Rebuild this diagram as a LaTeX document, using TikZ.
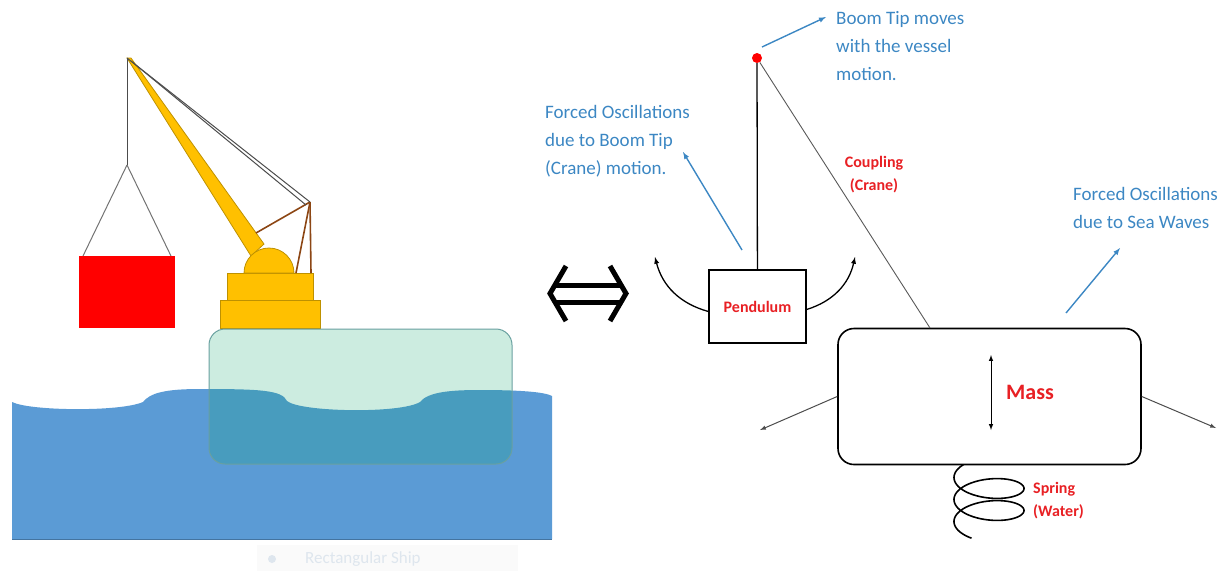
\documentclass[tikz,border=0pt]{standalone}
\usepackage{fontspec}
\setmainfont{Carlito}
\usepackage{xcolor}

\definecolor{seablue}{RGB}{91,155,213}
\definecolor{hullgreen}{RGB}{0,160,100}
\definecolor{hulledge}{RGB}{105,160,160}
\definecolor{craneyellow}{RGB}{255,192,0}
\definecolor{craneedge}{RGB}{190,145,0}
\definecolor{stay}{RGB}{140,70,20}
\definecolor{noteblue}{RGB}{60,135,195}
\definecolor{labelred}{RGB}{232,32,36}
\definecolor{faint}{RGB}{222,230,238}

\tikzset{
    note/.style={text=noteblue, align=left, anchor=north west, inner sep=0pt,
        font=\fontsize{19}{28}\selectfont},
    tag/.style={text=labelred, inner sep=0pt, font=\bfseries\fontsize{16}{23}\selectfont},
    pointer/.style={-latex, draw=noteblue, line width=1.4pt},
    swing/.style={-latex, line width=1.3pt},
    cranepart/.style={fill=craneyellow, draw=craneedge, line width=0.8pt},
    wire/.style={draw=black!70, line width=1pt},
}

\begin{document}
\begin{tikzpicture}[x=1pt,y=-1pt]
    \useasboundingbox (0,0) rectangle (1220,571);

    % sea
    \fill[seablue] (12,539) -- (12,402) .. controls (30,411) and (120,412) .. (143,402)
        .. controls (150,393) and (165,389) .. (200,389)
        .. controls (260,389) and (282,390) .. (287,401)
        .. controls (300,412) and (400,414) .. (420,402)
        .. controls (428,392) and (450,390) .. (480,390)
        .. controls (520,390) and (545,392) .. (552,396) -- (552,539) -- cycle;
    \draw[seablue!75!black] (12,539) -- (552,539);

    % crane
    \draw[cranepart] (127,58) -- (131,58) -- (264,244) -- (251,256) -- cycle;
    \draw[cranepart] (220,300) rectangle (320,328);
    \draw[cranepart] (227,273) rectangle (313,300);
    \draw[cranepart] (244,273) arc[start angle=180, end angle=0, radius=25pt] -- cycle;

    \draw[stay, line width=1.6pt] (310,202) -- (256,233);
    \draw[stay, line width=1.6pt] (310,202) -- (296,273);
    \draw[stay, line width=1.6pt] (310,202) -- (311,273);

    \draw[wire] (127,58) -- (310,202);
    \draw[wire] (131,61) -- (306,205);
    \draw[wire] (127,58) -- (127,165);
    \draw[wire, draw=black!55] (127,165) -- (83,256);
    \draw[wire, draw=black!55] (127,165) -- (171,256);

    % load
    \fill[red] (79,256) rectangle (175,328);

    % hull
    \draw[fill=hullgreen, fill opacity=0.2, draw=hulledge, line width=1pt, rounded corners=16pt]
        (209,329) rectangle (512,464);

    % legend
    \fill[black!2] (257,545) rectangle (518,571);
    \fill[faint] (272,559) circle[radius=4pt];
    \node[anchor=west, text=faint, font=\fontsize{17}{20}\selectfont, inner sep=0pt]
        (legend) at (305,559) {Rectangular Ship};

    % equivalence sign
    \draw[line width=5pt] (556,285) -- (620,285) (556,302) -- (620,302);
    \draw[line width=5pt, line join=miter] (566,266) -- (550,293.5) -- (566,321);
    \draw[line width=5pt, line join=miter] (610,266) -- (626,293.5) -- (610,321);

    % pendulum
    \node[circle, fill=red, inner sep=0pt, minimum size=10pt] (tip) at (757,58) {};
    \node[draw, line width=1.3pt, minimum width=97pt, minimum height=73pt,
        text=labelred, font=\bfseries\fontsize{16}{20}\selectfont] (pend) at (757.5,306.5) {Pendulum};
    \draw[line width=1.3pt] (tip) -- (pend);

    \coordinate (swingL) at (655,257);
    \coordinate (swingR) at (855,257);
    \draw[swing] ([yshift=-5pt]pend.west) to[bend left=30] (swingL);
    \draw[swing] ([yshift=-3pt]pend.east) to[bend right=30] (swingR);

    % spring under the mass
    \draw[line width=1.6pt] plot[domain=0:870, samples=240, smooth, variable=\t]
        ({989-35*sin(\t)}, {472+\t/360*22-15*cos(\t)});

    % mass
    \node[draw, fill=white, line width=1.6pt, rounded corners=16pt,
        minimum width=303pt, minimum height=136pt] (mass) at (989.5,396.5) {};
    \node[tag, font=\bfseries\fontsize{22}{26}\selectfont] (masslabel) at (1030,392) {Mass};

    \coordinate (hitch) at (930,328);
    \draw[draw=black!65, line width=0.9pt] (tip) -- (hitch);

    \coordinate (heavetop) at (991,355);
    \coordinate (heavebot) at (991,430);
    \draw[latex-latex, line width=1pt] (heavetop) -- (heavebot);

    \coordinate (surgeL) at (760,430);
    \coordinate (surgeR) at (1216,428);
    \draw[-latex, draw=black!70, line width=1pt] (mass.west) -- (surgeL);
    \draw[-latex, draw=black!70, line width=1pt] (mass.east) -- (surgeR);

    % labels
    \node[tag, align=center, anchor=north] (cnote) at (874,156) {Coupling\\(Crane)};
    \node[tag, align=left, anchor=north west] (wnote) at (1033,482) {Spring\\(Water)};

    \node[note] (bnote) at (836,11) {Boom Tip moves\\with the vessel\\motion.};
    \node[note] (pnote) at (545,105) {Forced Oscillations\\due to Boom Tip\\(Crane) motion.};
    \node[note] (snote) at (1073,187) {Forced Oscillations\\due to Sea Waves};

    % arrows
    \coordinate (bfoot) at (762,47);
    \coordinate (bhead) at (826,17);
    \draw[pointer] (bfoot) -- (bhead);
    \coordinate (pfoot) at (742,250);
    \coordinate (phead) at (683,152);
    \draw[pointer] (pfoot) -- (phead);
    \coordinate (sfoot) at (1066,313);
    \coordinate (shead) at (1120,248);
    \draw[pointer] (sfoot) -- (shead);
\end{tikzpicture}
\end{document}
